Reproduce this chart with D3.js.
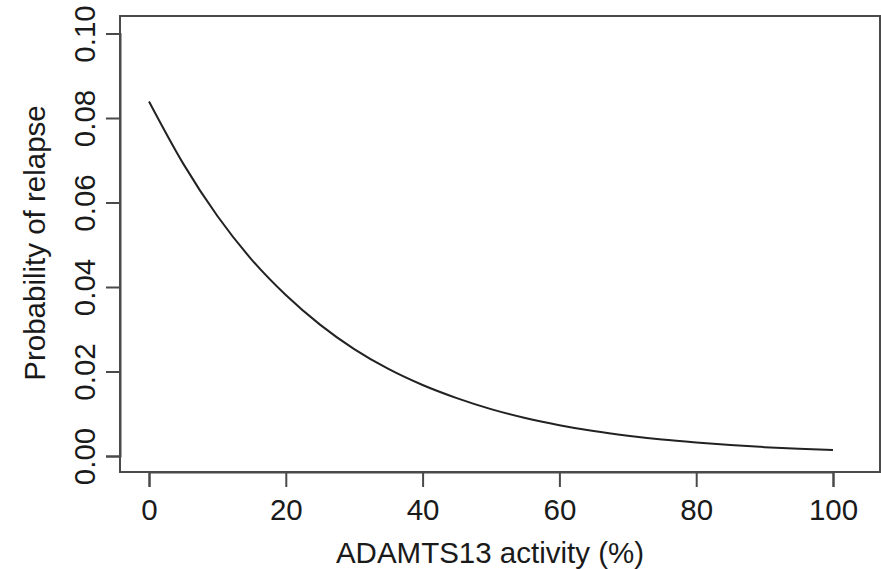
<!DOCTYPE html>
<html>
<head>
<meta charset="utf-8">
<script src="https://cdn.jsdelivr.net/npm/d3@7"></script>
<style>
  html, body { margin: 0; padding: 0; background: #fff; }
  svg { display: block; }
  text { font-family: "Liberation Sans", Arial, Helvetica, sans-serif; fill: #1a1a1a; }
</style>
</head>
<body>
<svg id="chart" width="881" height="569"></svg>
<script>
// ADAMTS13 activity (%) values at which the curve was read
const activity = [0, 5, 10, 15, 20, 25, 30, 35, 40, 45, 50, 55, 60, 65, 70, 75, 80, 85, 90, 95, 100];
// Probability of relapse
const relapseProb = [0.0839, 0.0692, 0.0568, 0.0465, 0.0381, 0.0311, 0.0253, 0.0206, 0.0168, 0.0137,
                     0.0111, 0.0090, 0.0073, 0.0059, 0.0048, 0.0039, 0.0032, 0.0026, 0.0021, 0.0017, 0.0014];
const xTicks = [0, 20, 40, 60, 80, 100];
const yTicks = [0.00, 0.02, 0.04, 0.06, 0.08, 0.10];
const xTitle = "ADAMTS13 activity (%)";
const yTitle = "Probability of relapse";

const svg = d3.select("#chart");
const fontSize = 29.5;

const x = d3.scaleLinear().domain([0, 100]).range([149, 833]);
const y = d3.scaleLinear().domain([0, 0.1]).range([456, 33.5]);

// plot box
const box = { left: 120, right: 880, top: 16, bottom: 472 };
svg.append("rect")
  .attr("x", box.left).attr("y", box.top)
  .attr("width", box.right - box.left).attr("height", box.bottom - box.top)
  .attr("fill", "none").attr("stroke", "#4a4a4a").attr("stroke-width", 2);

// x axis
const xAxis = d3.axisBottom(x).tickValues(xTicks).tickSize(15).tickPadding(12)
  .tickFormat(d3.format("d"));
const gx = svg.append("g").attr("transform", `translate(0,${box.bottom})`).call(xAxis);
gx.select(".domain").attr("stroke", "#4a4a4a").attr("stroke-width", 2);
gx.selectAll(".tick line").attr("stroke", "#4a4a4a").attr("stroke-width", 2);
gx.selectAll(".tick text").attr("font-size", fontSize).attr("fill", "#1a1a1a")
  .attr("font-family", "Liberation Sans, Arial, sans-serif")
  .attr("dy", null).attr("y", 47.5);

// y axis
const yAxis = d3.axisLeft(y).tickValues(yTicks).tickSize(14).tickFormat(d3.format(".2f"));
const gy = svg.append("g").attr("transform", `translate(${box.left},0)`).call(yAxis);
gy.select(".domain").attr("stroke", "#4a4a4a").attr("stroke-width", 2);
gy.selectAll(".tick line").attr("stroke", "#4a4a4a").attr("stroke-width", 2);
gy.selectAll(".tick text")
  .attr("font-size", fontSize).attr("fill", "#1a1a1a")
  .attr("font-family", "Liberation Sans, Arial, sans-serif")
  .attr("x", null).attr("dy", null)
  .attr("text-anchor", "middle")
  .attr("transform", `translate(${95 - box.left},0) rotate(-90)`);

// curve
const line = d3.line()
  .x((d, i) => x(activity[i]))
  .y(d => y(d))
  .curve(d3.curveMonotoneX);
svg.append("path")
  .datum(relapseProb)
  .attr("d", line)
  .attr("fill", "none")
  .attr("stroke", "#222")
  .attr("stroke-width", 2);

// titles
svg.append("text")
  .attr("x", 490).attr("y", 563)
  .attr("text-anchor", "middle")
  .attr("font-size", fontSize)
  .text(xTitle);

svg.append("text")
  .attr("transform", `translate(45,${(box.top + box.bottom) / 2 - 1}) rotate(-90)`)
  .attr("text-anchor", "middle")
  .attr("font-size", fontSize)
  .text(yTitle);
</script>
</body>
</html>
